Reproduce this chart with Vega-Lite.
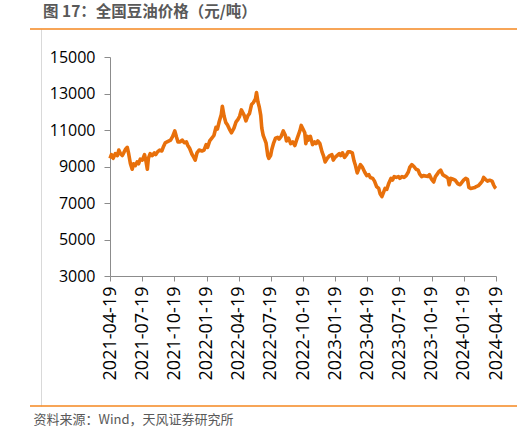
{
  "$schema": "https://vega.github.io/schema/vega-lite/v6.json",
  "width": 487,
  "height": 377,
  "autosize": "none",
  "padding": {"left": 30, "top": 29, "right": 7, "bottom": 28},
  "title": {
    "text": "图 17：全国豆油价格（元/吨）",
    "anchor": "start",
    "frame": "group",
    "dx": 13,
    "offset": 8,
    "font": "Noto Sans CJK SC",
    "fontSize": 15.5,
    "fontWeight": "bold",
    "color": "#595959"
  },
  "config": {"view": {"stroke": null}},
  "resolve": {"scale": {"y": "independent"}, "axis": {"y": "independent"}},
  "layer": [
    {
      "data": {"values": [{"v": 0}, {"v": 1}]},
      "mark": {"type": "rule", "color": "#F5871F", "strokeWidth": 1.6},
      "encoding": {
        "y": {
          "field": "v",
          "type": "quantitative",
          "scale": {"domain": [0, 1], "nice": false, "zero": false},
          "axis": {
            "orient": "left",
            "offset": -11,
            "domain": true,
            "domainColor": "#d9d9d9",
            "domainWidth": 1,
            "labels": false,
            "ticks": false,
            "grid": false,
            "title": null
          }
        }
      }
    },
    {
      "data": {
        "values": [
          {"date": "2021-04-19", "price": 9450},
          {"date": "2021-04-23", "price": 9650},
          {"date": "2021-04-28", "price": 9450},
          {"date": "2021-05-04", "price": 9700},
          {"date": "2021-05-10", "price": 9600},
          {"date": "2021-05-14", "price": 9900},
          {"date": "2021-05-19", "price": 9700},
          {"date": "2021-05-24", "price": 9600},
          {"date": "2021-05-28", "price": 9750},
          {"date": "2021-06-02", "price": 9950},
          {"date": "2021-06-07", "price": 10050},
          {"date": "2021-06-11", "price": 9700},
          {"date": "2021-06-16", "price": 9150},
          {"date": "2021-06-21", "price": 8850},
          {"date": "2021-06-25", "price": 9150},
          {"date": "2021-06-30", "price": 9050},
          {"date": "2021-07-05", "price": 9250},
          {"date": "2021-07-09", "price": 9150},
          {"date": "2021-07-14", "price": 9400},
          {"date": "2021-07-20", "price": 9350},
          {"date": "2021-07-26", "price": 9650},
          {"date": "2021-07-30", "price": 9300},
          {"date": "2021-08-03", "price": 8850},
          {"date": "2021-08-06", "price": 9450},
          {"date": "2021-08-11", "price": 9700},
          {"date": "2021-08-17", "price": 9600},
          {"date": "2021-08-23", "price": 9750},
          {"date": "2021-08-27", "price": 9650},
          {"date": "2021-09-01", "price": 9800},
          {"date": "2021-09-07", "price": 9900},
          {"date": "2021-09-13", "price": 9850},
          {"date": "2021-09-17", "price": 10050},
          {"date": "2021-09-23", "price": 10300},
          {"date": "2021-09-28", "price": 10350},
          {"date": "2021-10-08", "price": 10450},
          {"date": "2021-10-14", "price": 10650},
          {"date": "2021-10-20", "price": 10950},
          {"date": "2021-10-25", "price": 10600},
          {"date": "2021-10-29", "price": 10350},
          {"date": "2021-11-04", "price": 10350},
          {"date": "2021-11-10", "price": 10450},
          {"date": "2021-11-16", "price": 10300},
          {"date": "2021-11-22", "price": 10350},
          {"date": "2021-11-26", "price": 10150},
          {"date": "2021-12-01", "price": 10000},
          {"date": "2021-12-07", "price": 9700},
          {"date": "2021-12-13", "price": 9500},
          {"date": "2021-12-17", "price": 9350},
          {"date": "2021-12-22", "price": 9750},
          {"date": "2021-12-28", "price": 9900},
          {"date": "2022-01-05", "price": 9850},
          {"date": "2022-01-11", "price": 9900},
          {"date": "2022-01-17", "price": 10200},
          {"date": "2022-01-21", "price": 10050},
          {"date": "2022-01-27", "price": 10400},
          {"date": "2022-02-08", "price": 10700},
          {"date": "2022-02-14", "price": 11150},
          {"date": "2022-02-18", "price": 11050},
          {"date": "2022-02-23", "price": 11450},
          {"date": "2022-03-01", "price": 11850},
          {"date": "2022-03-04", "price": 12300},
          {"date": "2022-03-09", "price": 11750},
          {"date": "2022-03-14", "price": 11400},
          {"date": "2022-03-18", "price": 11300},
          {"date": "2022-03-24", "price": 11050},
          {"date": "2022-03-30", "price": 10850},
          {"date": "2022-04-06", "price": 11100},
          {"date": "2022-04-12", "price": 11450},
          {"date": "2022-04-18", "price": 11600},
          {"date": "2022-04-22", "price": 11750},
          {"date": "2022-04-27", "price": 12100},
          {"date": "2022-05-05", "price": 11800},
          {"date": "2022-05-10", "price": 11500},
          {"date": "2022-05-16", "price": 11800},
          {"date": "2022-05-20", "price": 11900},
          {"date": "2022-05-26", "price": 12400},
          {"date": "2022-05-31", "price": 12500},
          {"date": "2022-06-06", "price": 12700},
          {"date": "2022-06-09", "price": 13050},
          {"date": "2022-06-13", "price": 12550},
          {"date": "2022-06-17", "price": 12250},
          {"date": "2022-06-21", "price": 11800},
          {"date": "2022-06-24", "price": 11100},
          {"date": "2022-06-28", "price": 10700},
          {"date": "2022-07-01", "price": 10550},
          {"date": "2022-07-06", "price": 10300},
          {"date": "2022-07-11", "price": 9600},
          {"date": "2022-07-14", "price": 9450},
          {"date": "2022-07-19", "price": 9600},
          {"date": "2022-07-22", "price": 9900},
          {"date": "2022-07-27", "price": 10250},
          {"date": "2022-08-02", "price": 10550},
          {"date": "2022-08-08", "price": 10600},
          {"date": "2022-08-12", "price": 10500},
          {"date": "2022-08-18", "price": 10650},
          {"date": "2022-08-24", "price": 10950},
          {"date": "2022-08-30", "price": 10700},
          {"date": "2022-09-02", "price": 10400},
          {"date": "2022-09-08", "price": 10550},
          {"date": "2022-09-14", "price": 10250},
          {"date": "2022-09-20", "price": 10350},
          {"date": "2022-09-26", "price": 10150},
          {"date": "2022-09-30", "price": 10400},
          {"date": "2022-10-10", "price": 10950},
          {"date": "2022-10-14", "price": 11250},
          {"date": "2022-10-19", "price": 11050},
          {"date": "2022-10-24", "price": 10850},
          {"date": "2022-10-27", "price": 10250},
          {"date": "2022-11-01", "price": 10650},
          {"date": "2022-11-04", "price": 10450},
          {"date": "2022-11-09", "price": 10650},
          {"date": "2022-11-15", "price": 10200},
          {"date": "2022-11-21", "price": 10350},
          {"date": "2022-11-25", "price": 10250},
          {"date": "2022-11-30", "price": 10400},
          {"date": "2022-12-06", "price": 10250},
          {"date": "2022-12-12", "price": 9800},
          {"date": "2022-12-16", "price": 9600},
          {"date": "2022-12-21", "price": 9250},
          {"date": "2022-12-27", "price": 9450},
          {"date": "2023-01-03", "price": 9600},
          {"date": "2023-01-09", "price": 9650},
          {"date": "2023-01-13", "price": 9350},
          {"date": "2023-01-18", "price": 9500},
          {"date": "2023-01-30", "price": 9700},
          {"date": "2023-02-03", "price": 9600},
          {"date": "2023-02-08", "price": 9750},
          {"date": "2023-02-14", "price": 9500},
          {"date": "2023-02-20", "price": 9650},
          {"date": "2023-02-24", "price": 9800},
          {"date": "2023-03-02", "price": 9800},
          {"date": "2023-03-08", "price": 9750},
          {"date": "2023-03-13", "price": 9300},
          {"date": "2023-03-17", "price": 9050},
          {"date": "2023-03-22", "price": 8650},
          {"date": "2023-03-27", "price": 8900},
          {"date": "2023-03-31", "price": 9100},
          {"date": "2023-04-06", "price": 8950},
          {"date": "2023-04-12", "price": 8700},
          {"date": "2023-04-18", "price": 8500},
          {"date": "2023-04-24", "price": 8550},
          {"date": "2023-04-28", "price": 8400},
          {"date": "2023-05-05", "price": 8350},
          {"date": "2023-05-10", "price": 8200},
          {"date": "2023-05-16", "price": 7900},
          {"date": "2023-05-22", "price": 7800},
          {"date": "2023-05-26", "price": 7500},
          {"date": "2023-05-31", "price": 7350},
          {"date": "2023-06-05", "price": 7600},
          {"date": "2023-06-09", "price": 7800},
          {"date": "2023-06-14", "price": 7750},
          {"date": "2023-06-19", "price": 8050},
          {"date": "2023-06-26", "price": 8350},
          {"date": "2023-06-30", "price": 8250},
          {"date": "2023-07-05", "price": 8450},
          {"date": "2023-07-11", "price": 8400},
          {"date": "2023-07-17", "price": 8450},
          {"date": "2023-07-21", "price": 8350},
          {"date": "2023-07-27", "price": 8450},
          {"date": "2023-08-02", "price": 8400},
          {"date": "2023-08-08", "price": 8500},
          {"date": "2023-08-14", "price": 8700},
          {"date": "2023-08-18", "price": 8950},
          {"date": "2023-08-24", "price": 9100},
          {"date": "2023-08-30", "price": 9000},
          {"date": "2023-09-05", "price": 8850},
          {"date": "2023-09-11", "price": 8800},
          {"date": "2023-09-15", "price": 8600},
          {"date": "2023-09-21", "price": 8450},
          {"date": "2023-09-26", "price": 8500},
          {"date": "2023-10-09", "price": 8450},
          {"date": "2023-10-13", "price": 8550},
          {"date": "2023-10-19", "price": 8300},
          {"date": "2023-10-25", "price": 8150},
          {"date": "2023-10-30", "price": 8450},
          {"date": "2023-11-03", "price": 8550},
          {"date": "2023-11-08", "price": 8700},
          {"date": "2023-11-14", "price": 8800},
          {"date": "2023-11-20", "price": 8550},
          {"date": "2023-11-24", "price": 8500},
          {"date": "2023-11-29", "price": 8450},
          {"date": "2023-12-05", "price": 8350},
          {"date": "2023-12-08", "price": 8000},
          {"date": "2023-12-13", "price": 8350},
          {"date": "2023-12-19", "price": 8300},
          {"date": "2023-12-25", "price": 8250},
          {"date": "2024-01-02", "price": 8050},
          {"date": "2024-01-08", "price": 8000},
          {"date": "2024-01-12", "price": 8100},
          {"date": "2024-01-18", "price": 8250},
          {"date": "2024-01-24", "price": 8350},
          {"date": "2024-01-29", "price": 8300},
          {"date": "2024-02-02", "price": 7850},
          {"date": "2024-02-07", "price": 7800},
          {"date": "2024-02-19", "price": 7850},
          {"date": "2024-02-23", "price": 7900},
          {"date": "2024-02-29", "price": 7950},
          {"date": "2024-03-05", "price": 8050},
          {"date": "2024-03-11", "price": 8200},
          {"date": "2024-03-15", "price": 8400},
          {"date": "2024-03-20", "price": 8300},
          {"date": "2024-03-26", "price": 8200},
          {"date": "2024-04-01", "price": 8250},
          {"date": "2024-04-08", "price": 8200},
          {"date": "2024-04-12", "price": 8000},
          {"date": "2024-04-16", "price": 7850},
          {"date": "2024-04-19", "price": 7800}
        ]
      },
      "mark": {"type": "line", "color": "#E8700B", "strokeWidth": 3.6, "strokeJoin": "round"},
      "encoding": {
        "x": {
          "field": "date",
          "type": "temporal",
          "scale": {
            "type": "utc",
            "domain": [
              {"year": 2021, "month": 4, "date": 19, "utc": true},
              {"year": 2024, "month": 4, "date": 19, "utc": true}
            ],
            "range": [80, 466],
            "nice": false
          },
          "axis": {
            "orient": "bottom",
            "offset": -130,
            "values": [
              {"year": 2021, "month": 4, "date": 19, "utc": true},
              {"year": 2021, "month": 7, "date": 19, "utc": true},
              {"year": 2021, "month": 10, "date": 19, "utc": true},
              {"year": 2022, "month": 1, "date": 19, "utc": true},
              {"year": 2022, "month": 4, "date": 19, "utc": true},
              {"year": 2022, "month": 7, "date": 19, "utc": true},
              {"year": 2022, "month": 10, "date": 19, "utc": true},
              {"year": 2023, "month": 1, "date": 19, "utc": true},
              {"year": 2023, "month": 4, "date": 19, "utc": true},
              {"year": 2023, "month": 7, "date": 19, "utc": true},
              {"year": 2023, "month": 10, "date": 19, "utc": true},
              {"year": 2024, "month": 1, "date": 19, "utc": true},
              {"year": 2024, "month": 4, "date": 19, "utc": true}
            ],
            "format": "%Y-%m-%d",
            "labelAngle": 270,
            "labelFont": "Open Sans",
            "labelFontSize": 18,
            "labelColor": "#000000",
            "labelPadding": 5,
            "labelOverlap": false,
            "labelFlush": false,
            "tickColor": "#8c8c8c",
            "tickSize": 5,
            "domainColor": "#8c8c8c",
            "grid": false,
            "title": "资料来源：Wind，天风证券研究所",
            "titleX": 3,
            "titleY": 143,
            "titleAlign": "left",
            "titleBaseline": "middle",
            "titleAnchor": "start",
            "titleFont": "Noto Sans CJK SC",
            "titleFontSize": 13,
            "titleFontWeight": "normal",
            "titleColor": "#595959"
          }
        },
        "y": {
          "field": "price",
          "type": "quantitative",
          "scale": {"domain": [3000, 15000], "range": [247, 28], "nice": false, "zero": false},
          "axis": {
            "orient": "left",
            "offset": -80,
            "values": [3000, 5000, 7000, 9000, 11000, 13000, 15000],
            "format": "d",
            "labelFont": "Open Sans",
            "labelFontSize": 16,
            "labelColor": "#000000",
            "labelPadding": 9,
            "tickColor": "#8c8c8c",
            "tickSize": 6,
            "domainColor": "#8c8c8c",
            "grid": false,
            "title": null
          }
        }
      }
    }
  ]
}
